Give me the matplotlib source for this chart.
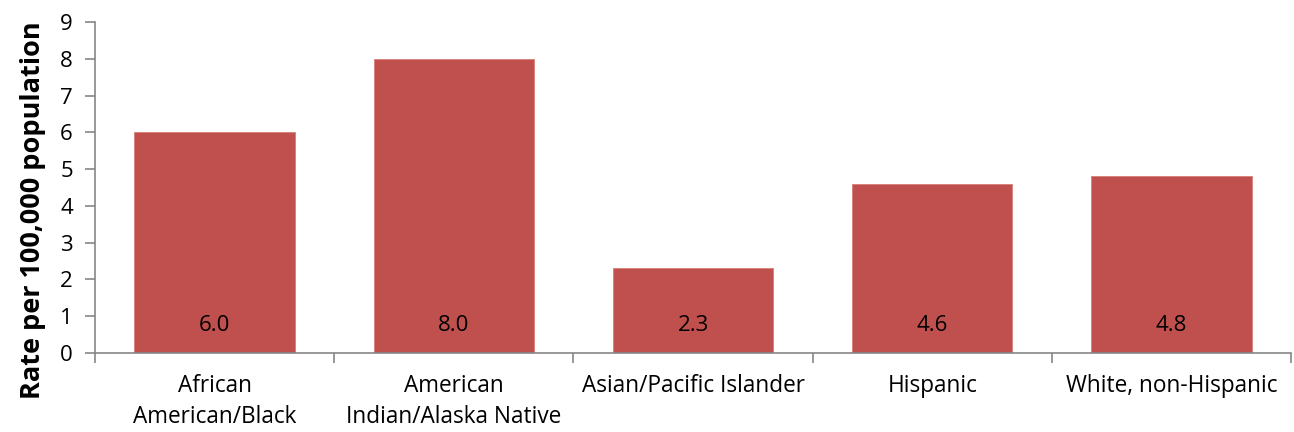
import matplotlib
matplotlib.use("Agg")
import matplotlib.pyplot as plt

categories = ["African\nAmerican/Black", "American\nIndian/Alaska Native",
              "Asian/Pacific Islander", "Hispanic", "White, non-Hispanic"]
values = [6.0, 8.0, 2.3, 4.6, 4.8]
yticks = list(range(0, 10))

plt.rcParams['font.family'] = ['Open Sans', 'DejaVu Sans']

fig = plt.figure(figsize=(12.94, 4.32), dpi=100)
ax = fig.add_axes([95/1294, 79/432, 1196/1294, 331/432])

x = list(range(len(categories)))
ax.bar(x, values, width=0.67, color='#C0504D', edgecolor='#D97C7A', linewidth=0.6, zorder=2)
for xi, v in zip(x, values):
    ax.text(xi, 0.75, f"{v:.1f}", ha='center', va='center', fontsize=16, color='black')

ax.set_xlim(-0.5, len(categories) - 0.5)
ax.set_ylim(0, 9)
ax.set_yticks(yticks)
ax.set_yticklabels([str(t) for t in yticks], fontsize=16)
ax.set_xticks(x)
ax.set_xticklabels(categories, fontsize=16.3, linespacing=1.4)
ax.tick_params(axis='x', length=0, pad=15)
ax.set_xticks([i - 0.5 for i in range(len(categories) + 1)], minor=True)
ax.tick_params(axis='x', which='minor', length=7, color='#868686', width=1.2)
ax.tick_params(axis='y', length=7, color='#868686', width=1.2, pad=9)
for s in ['top', 'right']:
    ax.spines[s].set_visible(False)
for s in ['left', 'bottom']:
    ax.spines[s].set_color('#868686')
    ax.spines[s].set_linewidth(1.2)
ax.set_ylabel("Rate per 100,000 population", fontsize=19.5, fontweight='bold')
ax.yaxis.set_label_coords(-0.041, 0.43)

fig.savefig("out.png", dpi=100)
